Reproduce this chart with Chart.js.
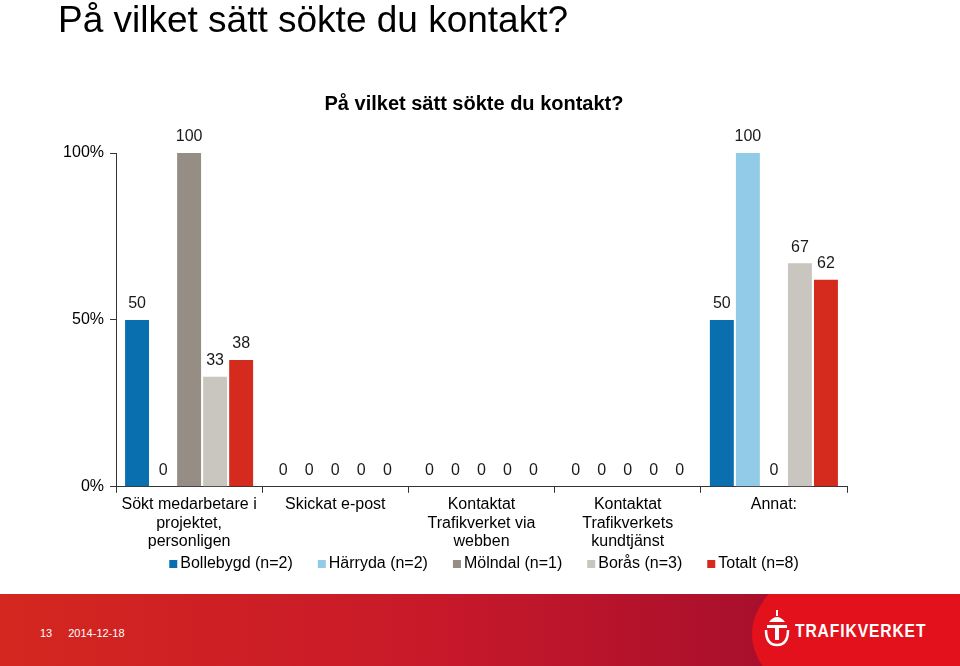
<!DOCTYPE html>
<html>
<head>
<meta charset="utf-8">
<script src="https://cdn.jsdelivr.net/npm/chart.js@4.4.1/dist/chart.umd.min.js"></script>
<style>
  html, body { margin: 0; padding: 0; background: #fff; }
  body { width: 960px; height: 666px; position: relative; overflow: hidden; font-family: "Liberation Sans", Arial, sans-serif; }
  #slideTitle { position: absolute; left: 58px; top: 1px; font-size: 37px; line-height: 1; color: #000; white-space: nowrap; z-index: 2; }
  #wrap { position: absolute; left: 0; top: 0; width: 960px; height: 594px; }
  #footer { position: absolute; left: 0; top: 594px; width: 960px; height: 72px;
    background: linear-gradient(90deg, #d4271f 0%, #c8192a 45%, #a80f2c 80%); overflow: hidden; }
  #footer .right { position: absolute; left: 752px; top: -60px; width: 400px; height: 200px; background: #e2111c; border-radius: 50% 0 0 50% / 50% 0 0 50%; }
  #footer .date { position: absolute; left: 40px; top: 34px; font-size: 11px; line-height: 1; color: #fff; word-spacing: 0; }
  #footer .date span { display: inline-block; margin-left: 16px; }
  #footer .logo { position: absolute; left: 795px; top: 28px; font-size: 18px; line-height: 1; font-weight: bold; color: #fff; letter-spacing: 1px; transform: scaleX(0.87); transform-origin: left center; }
  #footer svg { position: absolute; left: 764px; top: 14px; }
</style>
</head>
<body>
<div id="slideTitle">På vilket sätt sökte du kontakt?</div>
<div id="wrap"><canvas id="c"></canvas></div>
<div id="footer">
  <div class="right"></div>
  <div class="date">13<span>2014-12-18</span></div>
  <svg width="26" height="42" viewBox="0 0 26 42">
    <path d="M5 14 Q13 4 21 14 Z" fill="#fff"/>
    <rect x="12" y="2" width="2" height="6" fill="#fff"/>
    <path d="M3 17 H23 V20 H15 V32 H11 V20 H3 Z" fill="#fff"/>
    <path d="M2 22 Q2 37 13 37 Q24 37 24 22" fill="none" stroke="#fff" stroke-width="2.5"/>
  </svg>
  <div class="logo">TRAFIKVERKET</div>
</div>
<script>
const chartTitle = 'På vilket sätt sökte du kontakt?';
const categories = [
  ['Sökt medarbetare i', 'projektet,', 'personligen'],
  ['Skickat e-post'],
  ['Kontaktat', 'Trafikverket via', 'webben'],
  ['Kontaktat', 'Trafikverkets', 'kundtjänst'],
  ['Annat:']
];
const seriesNames = ['Bollebygd (n=2)', 'Härryda (n=2)', 'Mölndal (n=1)', 'Borås (n=3)', 'Totalt (n=8)'];
const bollebygd = [50, 0, 0, 0, 50];
const harryda   = [0, 0, 0, 0, 100];
const molndal   = [100, 0, 0, 0, 0];
const boras     = [33, 0, 0, 0, 67];
const totalt    = [38, 0, 0, 0, 62];
const yTicks = [0, 50, 100];
const colors = ['#0a6fae', '#92cbe8', '#968d85', '#c9c5bf', '#d52b1e'];

const FONT = '"Liberation Sans", Arial, sans-serif';

const valueLabels = {
  id: 'valueLabels',
  afterDatasetsDraw(chart) {
    const ctx = chart.ctx;
    ctx.save();
    ctx.font = '16px ' + FONT;
    ctx.fillStyle = '#1a1a1a';
    ctx.textAlign = 'center';
    ctx.textBaseline = 'middle';
    chart.data.datasets.forEach((ds, i) => {
      const meta = chart.getDatasetMeta(i);
      meta.data.forEach((bar, j) => {
        ctx.fillText(String(ds.data[j]), bar.x, bar.y - 16);
      });
    });
    ctx.restore();
  }
};

const titlePlugin = {
  id: 'customTitle',
  afterDraw(chart) {
    const ctx = chart.ctx;
    ctx.save();
    ctx.font = 'bold 20px ' + FONT;
    ctx.fillStyle = '#000';
    ctx.textAlign = 'center';
    ctx.textBaseline = 'middle';
    ctx.fillText(chartTitle, 474, 104);
    ctx.restore();
  }
};

const legendPlugin = {
  id: 'customLegend',
  afterDraw(chart) {
    const ctx = chart.ctx;
    ctx.save();
    ctx.font = '16px ' + FONT;
    const box = 8, boxGap = 3, itemGap = 25;
    const items = chart.data.datasets.map(ds => ({ text: ds.label, color: ds.backgroundColor, w: box + boxGap + ctx.measureText(ds.label).width }));
    const total = items.reduce((s, it) => s + it.w, 0) + itemGap * (items.length - 1);
    let x = 484 - total / 2;
    const y = 564;
    ctx.textBaseline = 'middle';
    ctx.textAlign = 'left';
    items.forEach(it => {
      ctx.fillStyle = it.color;
      ctx.fillRect(x, y - box / 2, box, box);
      ctx.fillStyle = '#000';
      ctx.fillText(it.text, x + box + boxGap, y);
      x += it.w + itemGap;
    });
    ctx.restore();
  }
};

const data = {
  labels: categories,
  datasets: [bollebygd, harryda, molndal, boras, totalt].map((arr, i) => ({
    label: seriesNames[i],
    data: arr,
    backgroundColor: colors[i],
    borderWidth: 0,
    categoryPercentage: 0.89,
    barPercentage: 0.92
  }))
};

new Chart(document.getElementById('c'), {
  type: 'bar',
  data,
  plugins: [valueLabels, titlePlugin, legendPlugin],
  options: {
    responsive: true,
    maintainAspectRatio: false,
    devicePixelRatio: 1,
    animation: false,
    layout: { padding: { top: 153, left: 0, right: 113, bottom: 40 } },
    plugins: {
      title: { display: false },
      tooltip: { enabled: false },
      legend: { display: false }
    },
    scales: {
      x: {
        grid: { display: true, drawOnChartArea: false, drawTicks: true, tickLength: 6, color: '#333', offset: true },
        border: { display: true, color: '#333', width: 1 },
        ticks: {
          color: '#000', maxRotation: 0, autoSkip: false, padding: 3,
          font: { family: FONT, size: 16, lineHeight: 1.15 }
        }
      },
      y: {
        min: 0, max: 100,
        afterFit(scale) { scale.width = 116; },
        afterBuildTicks(scale) { scale.ticks = yTicks.map(v => ({ value: v })); },
        grid: { display: true, drawOnChartArea: false, drawTicks: true, tickLength: 6, color: '#333' },
        border: { display: true, color: '#333', width: 1 },
        ticks: {
          color: '#000', padding: 6,
          font: { family: FONT, size: 16 },
          callback: v => v + '%'
        }
      }
    }
  }
});
</script>
</body>
</html>
